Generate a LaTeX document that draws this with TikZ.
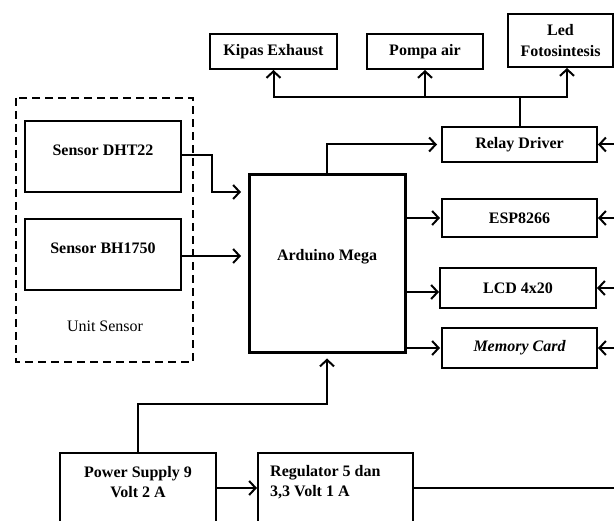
\documentclass[tikz,border=0pt]{standalone}
\usepackage{fontspec}
\setmainfont{Liberation Serif}
\usetikzlibrary{arrows.meta}
\begin{document}
\begin{tikzpicture}[x=1pt,y=-1pt,
  box/.style={draw,line width=2pt,inner sep=0pt,align=center,
    font=\fontsize{16}{21}\selectfont\bfseries},
  lbl/.style={inner sep=0pt,align=center,font=\fontsize{16}{20}\selectfont\bfseries},
  wire/.style={line width=2pt},
  arr/.style={wire,-{Straight Barb[length=6.5pt,width=14pt]}}]
\clip (0,0) rectangle (614,521);
% right-hand off-picture sources
\coordinate (R) at (625,0);
% top outputs
\node[box,minimum width=127pt,minimum height=35pt] (kipas) at (273.5,51.5) {Kipas Exhaust};
\node[box,minimum width=116pt,minimum height=35pt] (pompa) at (425,51.5) {Pompa air};
\node[box,minimum width=105pt,minimum height=53pt] (led) at (560.5,40.5) {Led\\Fotosintesis};
% right column
\node[box,minimum width=155pt,minimum height=35pt] (relay) at (519.5,144.5) {Relay Driver};
\node[box,minimum width=155pt,minimum height=38pt] (esp) at (519.5,218) {ESP8266};
\node[box,minimum width=156pt,minimum height=40pt] (lcd) at (518,288) {LCD 4x20};
\node[box,minimum width=155pt,minimum height=40pt] (mem) at (519.5,348) {\itshape Memory Card};
% arduino
\node[draw,line width=3pt,minimum width=156pt,minimum height=178pt,inner sep=0pt] (ard) at (327,264) {};
\node[lbl] (ardt) at (327,257) {Arduino Mega};
% sensors
\draw[line width=2pt,dash pattern=on 8pt off 5pt] (16,98) rectangle (193,362);
\node[box,minimum width=156pt,minimum height=71pt] (dht) at (103,156.5) {};
\node[lbl] (dhtt) at (103,150) {Sensor DHT22};
\node[box,minimum width=156pt,minimum height=71pt] (bh) at (103,254.5) {};
\node[lbl] (bht) at (103,248) {Sensor BH1750};
\node[inner sep=0pt,font=\fontsize{16}{20}\selectfont] (unit) at (105,326) {Unit Sensor};
% power
\node[draw,line width=2pt,minimum width=156pt,minimum height=92pt,inner sep=0pt] (ps) at (138,499) {};
\node[lbl] (pst) at (138,482) {Power Supply 9\\Volt 2 A};
\node[draw,line width=2pt,minimum width=155pt,minimum height=92pt,inner sep=0pt] (reg) at (335.5,499) {};
\node[lbl,align=left,anchor=west] (regt) at (270,482) {Regulator 5 dan\\3,3 Volt 1 A};
% connectors: relay to loads
\path (relay.north) ++(0,-29) coordinate (j);
\draw[wire] (relay.north) -- (j);
\draw[arr] (j) -| (kipas.south);
\draw[arr] (j) -| ([xshift=6.5pt]led.south);
\draw[arr] (pompa.south |- j) -- (pompa.south);
% arduino to outputs
\draw[arr,shorten >=4pt] (ard.north) |- (relay.west);
\draw[arr,shorten >=1pt] (esp.west -| ard.east) -- (esp.west);
\draw[arr] ([yshift=-4pt]lcd.west -| ard.east) -- ([yshift=-4pt]lcd.west);
\draw[arr,shorten >=1pt] (mem.west -| ard.east) -- (mem.west);
% from the right
\draw[arr] (relay.east -| R) -- (relay.east);
\draw[arr] (esp.east -| R) -- (esp.east);
\draw[arr] (lcd.east -| R) -- (lcd.east);
\draw[arr] (mem.east -| R) -- (mem.east);
% sensors to arduino
\coordinate (a1) at (241,192);
\coordinate (a2) at (241,256);
\draw[arr] ([yshift=1.5pt]dht.east) -- ++(30,0) |- (a1);
\draw[arr] (bh.east |- a2) -- (a2);
% power
\path (ard.south) ++(0,50) coordinate (b);
\draw[arr,shorten >=4pt] (ps.north) |- (b) -- (ard.south);
\draw[arr] ([yshift=11pt]ps.east) -- ([yshift=11pt]reg.west);
\coordinate (R2) at (625,488);
\draw[wire] ([yshift=11pt]reg.east) -- (R2);
\end{tikzpicture}
\end{document}
